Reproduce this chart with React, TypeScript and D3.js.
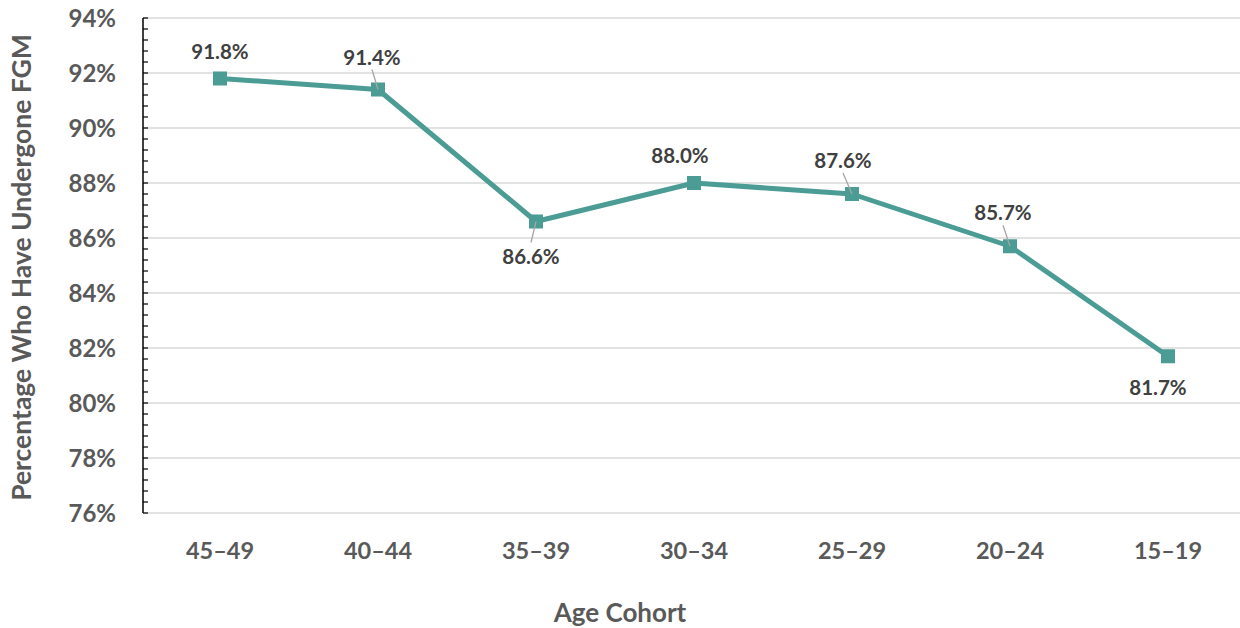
import React from "react";
import * as d3 from "d3";

const cohorts = ["45–49", "40–44", "35–39", "30–34", "25–29", "20–24", "15–19"];
const fgmShare = [91.8, 91.4, 86.6, 88.0, 87.6, 85.7, 81.7];
const yTicks = [76, 78, 80, 82, 84, 86, 88, 90, 92, 94];

// label placement relative to the point (dx, dy of text baseline), plus whether a leader line is drawn
const labelPos: [number, number, boolean][] = [
  [0, -20, false],
  [-6, -25, true],
  [-5, 42, true],
  [-14, -20, false],
  [-9, -26, true],
  [-7, -26, true],
  [-10, 39, false],
];

const W = 1240;
const H = 628;
const M = { left: 143, right: 1247, top: 18, bottom: 513 };
const FONT = "Lato, 'Open Sans', sans-serif";
const TEAL = "#4A9C94";

export default function App() {
  const x = d3.scaleBand<string>().domain(cohorts).range([M.left - 2, M.right]);
  const y = d3.scaleLinear().domain([76, 94]).range([M.bottom, M.top]);
  const cx = (c: string) => (x(c) ?? 0) + x.bandwidth() / 2;

  const line = d3
    .line<number>()
    .x((_, i) => cx(cohorts[i]))
    .y((d) => y(d));

  const minor = d3.range(76, 94.001, 0.4);

  return (
    <svg width={W} height={H} style={{ position: "absolute", left: 0, top: 0 }}>
      <rect width={W} height={H} fill="#fff" />
      {yTicks.map((t) => (
        <line key={t} x1={M.left} x2={M.right} y1={y(t)} y2={y(t)} stroke="#d9d9d9" strokeWidth={1.5} />
      ))}
      {minor.map((t, i) => (
        <line key={i} x1={M.left} x2={M.left + 5} y1={y(t)} y2={y(t)} stroke="#000" strokeWidth={1.2} />
      ))}
      <line x1={M.left} x2={M.left} y1={M.top} y2={M.bottom} stroke="#000" strokeWidth={1.5} />
      {yTicks.map((t) => (
        <text key={t} x={116} y={y(t) + 8.5} textAnchor="end" fontFamily={FONT} fontWeight={700} fontSize={24} fill="#595959">
          {t}%
        </text>
      ))}
      {cohorts.map((c) => (
        <text key={c} x={cx(c)} y={559} textAnchor="middle" fontFamily={FONT} fontWeight={700} fontSize={23.5} fill="#595959">
          {c}
        </text>
      ))}
      <text x={620} y={622} textAnchor="middle" fontFamily={FONT} fontWeight={700} fontSize={26} fill="#595959">
        Age Cohort
      </text>
      <text
        transform={`translate(31,${(M.top + M.bottom) / 2 + 2}) rotate(-90)`}
        textAnchor="middle"
        fontFamily={FONT}
        fontWeight={700}
        fontSize={26.5}
        fill="#595959"
      >
        Percentage Who Have Undergone FGM
      </text>
      <path d={line(fgmShare) ?? undefined} fill="none" stroke={TEAL} strokeWidth={5} strokeLinejoin="round" />
      {fgmShare.map((v, i) => (
        <rect key={i} x={cx(cohorts[i]) - 7} y={y(v) - 7} width={14} height={14} fill={TEAL} />
      ))}
      {fgmShare.map((v, i) => {
        const [dx, dy, leader] = labelPos[i];
        const px = cx(cohorts[i]);
        const py = y(v);
        const tx = px + dx;
        const ty = py + dy;
        const above = dy < 0;
        return (
          <g key={i}>
            {leader && (
              <line
                x1={tx}
                y1={above ? ty + 5 : ty - 21}
                x2={px}
                y2={py}
                stroke="#a6a6a6"
                strokeWidth={1.3}
              />
            )}
            <text x={tx} y={ty} textAnchor="middle" fontFamily={FONT} fontWeight={700} fontSize={20.5} fill="#404040">
              {v.toFixed(1)}%
            </text>
          </g>
        );
      })}
    </svg>
  );
}
